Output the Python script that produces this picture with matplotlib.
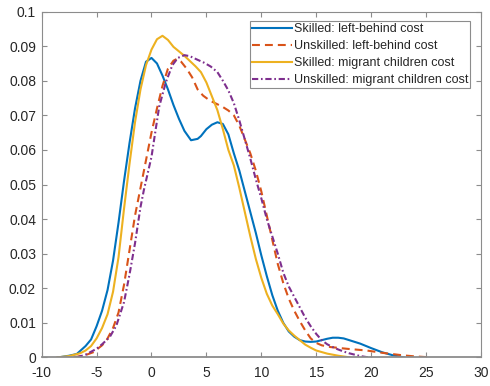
import matplotlib
matplotlib.use("Agg")
import matplotlib.pyplot as plt

plt.rcParams["font.family"] = ["Liberation Sans", "DejaVu Sans"]

# Kernel density estimates of the four cost measures
x_skl_lb = [-8.5, -7.5, -6.8, -6.0, -5.5, -5.0, -4.5, -4.0, -3.5, -3.0, -2.5, -2.0,
            -1.5, -1.0, -0.5, 0.0, 0.5, 1.0, 1.5, 2.0, 2.5, 3.0, 3.6, 4.2, 4.5, 5.0,
            5.5, 6.0, 6.5, 7.0, 7.5, 8.0, 8.5, 9.0, 9.5, 10.0, 10.5, 11.0, 11.5, 12.0,
            12.5, 13.0, 13.5, 14.0, 14.5, 15.0, 15.5, 16.0, 16.5, 17.0, 17.5, 18.0,
            19.0, 20.0, 21.0, 22.0, 23.0]
y_skl_lb = [0.0, 0.0005, 0.001, 0.0033, 0.0052, 0.009, 0.0135, 0.0195, 0.028, 0.039,
            0.051, 0.062, 0.072, 0.080, 0.0855, 0.0866, 0.085, 0.0815, 0.0775, 0.073,
            0.069, 0.0655, 0.0628, 0.0632, 0.064, 0.066, 0.0673, 0.068, 0.0675, 0.0645,
            0.059, 0.054, 0.048, 0.042, 0.036, 0.0295, 0.0235, 0.018, 0.0135, 0.010,
            0.0075, 0.006, 0.0050, 0.0046, 0.0045, 0.0046, 0.0050, 0.0054, 0.0057,
            0.0057, 0.0055, 0.005, 0.004, 0.0027, 0.0015, 0.0006, 0.0]

x_uns_lb = [-7.1, -6.0, -5.3, -4.5, -4.1, -3.5, -3.0, -2.5, -2.0, -1.5, -1.0, -0.5,
            0.0, 0.5, 1.0, 1.5, 2.0, 2.3, 2.7, 3.2, 3.7, 4.2, 4.7, 5.3, 6.0, 6.5, 7.0,
            7.5, 8.0, 8.5, 9.0, 9.5, 10.0, 10.5, 11.0, 11.5, 12.0, 12.5, 13.0, 13.5,
            14.0, 14.5, 15.0, 15.5, 16.3, 17.8, 19.6, 21.1, 22.9, 24.0, 25.5]
y_uns_lb = [0.0, 0.0007, 0.0015, 0.0035, 0.0049, 0.0085, 0.013, 0.021, 0.031, 0.041,
            0.049, 0.057, 0.065, 0.072, 0.0785, 0.0835, 0.0858, 0.0863, 0.0855, 0.0835,
            0.081, 0.0775, 0.0757, 0.0743, 0.0732, 0.0724, 0.0714, 0.070, 0.067, 0.063,
            0.059, 0.054, 0.048, 0.041, 0.034, 0.027, 0.0215, 0.017, 0.0135, 0.0105,
            0.0078, 0.0055, 0.0042, 0.0035, 0.003, 0.0025, 0.002, 0.0013, 0.0006,
            0.0003, 0.0]

x_skl_mc = [-8.6, -7.5, -6.5, -6.0, -5.5, -5.0, -4.5, -4.0, -3.5, -3.0, -2.5, -2.0,
            -1.5, -1.0, -0.5, 0.0, 0.5, 1.0, 1.5, 2.0, 2.5, 3.0, 3.5, 4.0, 4.5, 5.0,
            5.5, 6.0, 6.5, 7.0, 7.5, 8.0, 8.5, 9.0, 9.5, 10.0, 10.5, 11.0, 11.5, 12.0,
            12.5, 13.0, 13.5, 14.0, 14.5, 15.0, 16.0, 17.0, 18.1]
y_skl_mc = [0.0, 0.0004, 0.0012, 0.002, 0.0033, 0.0055, 0.0085, 0.0125, 0.019, 0.029,
            0.043, 0.056, 0.068, 0.0775, 0.0845, 0.089, 0.092, 0.093, 0.0918, 0.0898,
            0.0885, 0.0872, 0.0857, 0.0842, 0.0825, 0.0795, 0.0755, 0.0715, 0.066,
            0.060, 0.0555, 0.049, 0.042, 0.035, 0.0285, 0.023, 0.0184, 0.015, 0.0125,
            0.0098, 0.0078, 0.0063, 0.005, 0.0037, 0.0028, 0.002, 0.0011, 0.0005, 0.0]

x_uns_mc = [-6.8, -6.0, -5.0, -4.5, -3.8, -3.2, -2.5, -2.0, -1.5, -1.0, -0.7, 0.0,
            0.7, 1.3, 1.9, 2.4, 3.0, 3.5, 4.1, 4.8, 5.4, 6.0, 6.5, 7.0, 7.5, 8.0,
            8.5, 9.0, 9.5, 10.0, 10.5, 11.0, 11.5, 12.0, 12.5, 13.0, 13.5, 14.0, 14.5,
            15.0, 15.5, 16.0, 16.5, 17.0, 17.5, 18.0, 18.5, 19.0, 19.6, 20.0]
y_uns_mc = [0.0, 0.0008, 0.0025, 0.0038, 0.0059, 0.0092, 0.016, 0.024, 0.033, 0.0435,
            0.0483, 0.058, 0.0725, 0.0795, 0.0845, 0.0866, 0.0874, 0.0871, 0.0862,
            0.0852, 0.0841, 0.0825, 0.080, 0.0772, 0.0735, 0.0685, 0.063, 0.0575,
            0.0515, 0.046, 0.040, 0.035, 0.030, 0.0245, 0.0205, 0.0175, 0.0145, 0.0115,
            0.009, 0.0068, 0.005, 0.0038, 0.003, 0.0023, 0.0017, 0.0012, 0.0008,
            0.0004, 0.0001, 0.0]

labels = ["Skilled: left-behind cost", "Unskilled: left-behind cost",
          "Skilled: migrant children cost", "Unskilled: migrant children cost"]

x_ticks = [-10, -5, 0, 5, 10, 15, 20, 25, 30]
y_ticks = [0, 0.01, 0.02, 0.03, 0.04, 0.05, 0.06, 0.07, 0.08, 0.09, 0.1]
y_tick_labels = ["0", "0.01", "0.02", "0.03", "0.04", "0.05", "0.06", "0.07",
                 "0.08", "0.09", "0.1"]

fig = plt.figure(figsize=(4.9, 3.86), dpi=100)
ax = fig.add_axes([0.085, 0.074, 0.8966, 0.896])

ax.plot(x_skl_lb, y_skl_lb, color="#0072BD", lw=1.5, label=labels[0])
ax.plot(x_uns_lb, y_uns_lb, color="#D95319", lw=1.5, ls=(0, (3.8, 2.4)), label=labels[1])
ax.plot(x_skl_mc, y_skl_mc, color="#EDB120", lw=1.5, label=labels[2])
ax.plot(x_uns_mc, y_uns_mc, color="#7E2F8E", lw=1.5, ls=(0, (3, 1.3, 0.8, 1.3)),
        label=labels[3])

ax.set_xlim(-10, 30)
ax.set_ylim(0, 0.1)
ax.set_xticks(x_ticks)
ax.set_xticklabels([str(t) for t in x_ticks])
ax.set_yticks(y_ticks)
ax.set_yticklabels(y_tick_labels)

for side in ["top", "right", "left", "bottom"]:
    ax.spines[side].set_color("#8c8c8c")
    ax.spines[side].set_linewidth(0.8)
ax.spines["bottom"].set_linewidth(1.3)
ax.tick_params(direction="in", length=3.5, width=0.8, color="#8c8c8c",
               labelsize=10, labelcolor="#262626", top=True, right=True)
ax.tick_params(axis="x", pad=6)
ax.tick_params(axis="y", pad=4)

leg = ax.legend(loc="upper right", bbox_to_anchor=(0.975, 0.972), borderaxespad=0,
                fontsize=9, handlelength=3.2, handletextpad=0.15, labelspacing=0.4,
                borderpad=0.15, fancybox=False, framealpha=1)
leg.get_frame().set_edgecolor("#8c8c8c")
leg.get_frame().set_linewidth(0.8)
for t in leg.get_texts():
    t.set_color("#262626")

fig.savefig("out.png", dpi=100)
